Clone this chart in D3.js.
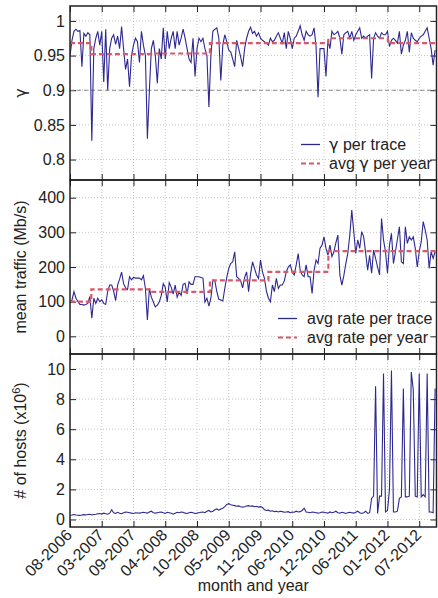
<!DOCTYPE html>
<html>
<head>
<meta charset="utf-8">
<script src="https://cdn.jsdelivr.net/npm/d3@7"></script>
<style>
  body { margin: 0; background: #fff; }
  svg { font-family: "Liberation Sans", Arial, Helvetica, sans-serif; }
  .grid line { stroke: #c8c8c8; stroke-dasharray: 1,2; }
  .frame { fill: none; stroke: #222; stroke-width: 1.5; }
  .greek { font-family: "DejaVu Sans", sans-serif; }
</style>
</head>
<body>
<svg width="438" height="598"></svg>
<script>
// x axis labels (one every 16 traces)
var monthLabels = ["08-2006","03-2007","09-2007","04-2008","10-2008","05-2009",
                   "11-2009","06-2010","12-2010","06-2011","01-2012","07-2012"];

// first trace index of each year and yearly averages
var yearStart = [0, 10.75, 40.9, 70.5, 100, 130.2, 160.2];
var gammaYear = [0.968, 0.952, 0.953, 0.968, 0.968, 0.975, 0.968];
var rateYear  = [100, 135.5, 128.5, 161.5, 186, 246, 246];

// gamma per trace
var gamma = [
  0.950,0.972,0.985,0.988,0.985,0.986,0.934,0.982,0.978,0.983,
  0.980,0.827,0.960,0.975,0.985,0.965,0.985,0.912,0.988,0.900,
  0.960,0.975,0.980,0.966,0.978,0.960,0.992,0.960,0.930,0.945,
  0.905,0.950,0.965,0.975,0.970,0.940,0.985,0.965,0.950,0.830,
  0.900,0.960,0.972,0.950,0.910,0.960,0.945,0.990,0.945,0.985,
  0.960,0.975,0.985,0.960,0.985,0.965,0.975,0.988,0.975,0.960,
  0.945,0.940,0.975,0.920,0.960,0.975,0.970,0.975,0.960,0.950,
  0.876,0.950,0.985,0.988,0.990,0.975,0.914,0.965,0.980,0.970,
  0.958,0.955,0.945,0.934,0.972,0.960,0.948,0.934,0.960,0.975,
  0.985,0.991,0.982,0.985,0.978,0.983,0.975,0.972,0.970,0.968,
  0.965,0.975,0.970,0.972,0.978,0.983,0.975,0.968,0.983,0.960,
  0.985,0.975,0.960,0.975,0.978,0.985,0.993,0.980,0.972,0.985,
  0.980,0.978,0.980,0.990,0.963,0.890,0.960,0.960,0.960,0.920,
  0.972,0.960,0.985,0.980,0.982,0.985,0.975,0.952,0.980,0.983,
  0.985,0.975,0.985,0.972,0.980,0.985,0.990,0.975,0.978,0.975,
  0.978,0.980,0.917,0.975,0.983,0.978,0.975,0.983,0.980,0.980,
  0.985,0.963,0.972,0.975,0.972,0.968,0.985,0.952,0.965,0.972,
  0.985,0.955,0.983,0.975,0.972,0.970,0.975,0.978,0.980,0.985,
  0.990,0.975,0.960,0.936,0.958
];

// mean traffic per trace (Mb/s)
var rate = [
  95,105,129,110,100,92,92,90,92,95,
  115,52,110,95,110,100,105,95,92,130,
  148,148,130,103,148,165,185,152,140,135,
  172,163,170,168,168,168,163,175,138,47,
  138,113,99,85,90,99,118,152,142,99,
  155,142,122,148,113,128,118,150,153,122,
  157,150,150,172,172,172,170,168,99,110,
  87,110,162,160,129,107,105,102,138,170,
  196,210,215,244,172,167,160,140,170,186,
  129,180,215,196,177,167,220,186,167,130,
  110,100,148,129,167,138,148,148,160,186,
  200,206,185,177,206,239,190,177,172,206,
  172,172,124,190,220,210,254,263,287,254,
  234,263,230,244,270,292,177,148,175,210,
  239,292,364,302,239,278,254,302,287,240,
  191,234,182,249,225,200,177,340,278,244,
  182,263,297,210,244,280,316,215,210,316,
  268,287,278,287,254,200,244,273,331,307,
  278,196,244,225,244
];

// number of hosts per trace (x10^6)
var hosts = [
  0.28,0.30,0.33,0.30,0.28,0.27,0.30,0.32,0.30,0.33,
  0.35,0.30,0.33,0.35,0.38,0.40,0.36,0.42,0.38,0.35,
  0.42,0.65,0.45,0.40,0.48,0.42,0.38,0.45,0.50,0.48,
  0.45,0.42,0.40,0.45,0.43,0.42,0.45,0.48,0.45,0.42,
  0.50,0.55,0.45,0.42,0.45,0.48,0.50,0.45,0.40,0.48,
  0.45,0.42,0.35,0.42,0.48,0.45,0.50,0.48,0.42,0.40,
  0.45,0.48,0.45,0.40,0.42,0.45,0.48,0.50,0.45,0.55,
  0.60,0.50,0.55,0.65,0.70,0.62,0.70,0.75,0.85,1.00,
  1.05,0.98,0.95,0.92,0.88,0.90,0.85,0.82,0.85,0.90,
  0.92,0.88,0.90,0.85,0.88,0.82,0.85,0.80,0.65,0.60,
  0.62,0.55,0.58,0.52,0.55,0.50,0.55,0.52,0.48,0.50,
  0.52,0.45,0.50,0.48,0.55,0.50,0.52,0.60,0.75,0.50,
  0.48,0.45,0.50,0.48,0.45,0.42,0.45,0.50,0.48,0.45,
  0.42,0.50,0.45,0.48,0.55,0.45,0.42,0.48,0.45,0.40,
  0.45,0.48,0.45,0.42,0.48,0.55,0.45,0.40,0.45,0.55,
  0.40,0.45,1.40,1.55,8.85,0.40,1.55,1.55,9.70,0.50,
  0.60,2.00,9.90,0.50,0.50,0.55,1.40,1.50,8.70,1.50,
  1.50,1.55,9.80,8.60,1.55,1.50,9.70,1.50,1.65,1.50,
  9.70,0.50,0.50,0.45,8.70
];

var gammaTicks = [0.8, 0.85, 0.9, 0.95, 1];
var rateTicks  = [0, 100, 200, 300, 400];
var hostTicks  = [0, 2, 4, 6, 8, 10];

var blue = "#2e2891",
    red  = "#d65a6a";

var svg = d3.select("svg"),
    left = 70, right = 436.5;

var x = d3.scaleLinear()
          .domain([0, 184.7])
          .range([left, right]);
var xTicks = monthLabels.map(function(d,i){ return i*16; });

var panels = [
  {top: 6,   bottom: 180, domain: [0.7705, 1.0215], ticks: gammaTicks, fmt: d3.format("")},
  {top: 180, bottom: 354, domain: [-51, 451],       ticks: rateTicks,  fmt: d3.format("d")},
  {top: 354, bottom: 527, domain: [-0.5, 11],       ticks: hostTicks,  fmt: d3.format("d")}
];

panels.forEach(function(p, k){
  p.y = d3.scaleLinear().domain(p.domain).range([p.bottom, p.top]);
  var g = svg.append("g");
  p.g = g;

  // grid
  var grid = g.append("g").attr("class","grid");
  grid.selectAll(".gx").data(xTicks.slice(1))
      .enter().append("line")
        .attr("x1", d => x(d)).attr("x2", d => x(d))
        .attr("y1", p.top).attr("y2", p.bottom);
  grid.selectAll(".gy").data(p.ticks)
      .enter().append("line")
        .attr("x1", left).attr("x2", right)
        .attr("y1", d => p.y(d)).attr("y2", d => p.y(d));

  // clip
  svg.append("clipPath").attr("id","clip"+k)
     .append("rect").attr("x", left).attr("y", p.top)
     .attr("width", right-left).attr("height", p.bottom-p.top);

  // y axes, left and mirrored right
  g.append("g")
   .attr("transform","translate("+left+",0)")
   .call(d3.axisRight(p.y).tickValues(p.ticks).tickSize(6).tickFormat(""))
   .call(a => a.select(".domain").remove())
   .selectAll("line").attr("stroke","#222");
  g.append("g")
   .attr("transform","translate("+right+",0)")
   .call(d3.axisLeft(p.y).tickValues(p.ticks).tickSize(6).tickFormat(""))
   .call(a => a.select(".domain").remove())
   .selectAll("line").attr("stroke","#222");
  g.append("g")
   .selectAll("text").data(p.ticks)
   .enter().append("text")
     .attr("x", left-5)
     .attr("y", d => p.y(d))
     .attr("dy","0.36em")
     .attr("text-anchor","end")
     .attr("font-size", 16)
     .attr("fill","#222")
     .text(p.fmt);

  // x ticks top and bottom
  g.append("g")
   .attr("transform","translate(0,"+p.bottom+")")
   .call(d3.axisTop(x).tickValues(xTicks).tickSize(6).tickFormat(""))
   .call(a => a.select(".domain").remove())
   .selectAll("line").attr("stroke","#222");
  g.append("g")
   .attr("transform","translate(0,"+p.top+")")
   .call(d3.axisBottom(x).tickValues(xTicks).tickSize(6).tickFormat(""))
   .call(a => a.select(".domain").remove())
   .selectAll("line").attr("stroke","#222");
});

// gamma panel
var pg = panels[0];
pg.g.append("line")
    .attr("x1", left).attr("x2", right)
    .attr("y1", pg.y(0.9)).attr("y2", pg.y(0.9))
    .attr("stroke","#8a8a8a").attr("stroke-width",1.2)
    .attr("stroke-dasharray","4,3");

function lineOf(p){
  return d3.line().x((d,i) => x(i)).y(d => p.y(d));
}
function stepOf(p, vals){
  var pts = yearStart.map((s,i) => [s, vals[i]]);
  pts.push([x.domain()[1], vals[vals.length-1]]);
  return d3.line().x(d => x(d[0])).y(d => p.y(d[1])).curve(d3.curveStepAfter)(pts);
}

pg.g.append("path")
    .attr("clip-path","url(#clip0)")
    .attr("d", lineOf(pg)(gamma))
    .attr("fill","none").attr("stroke",blue).attr("stroke-width",1.1);
pg.g.append("path")
    .attr("clip-path","url(#clip0)")
    .attr("d", stepOf(pg, gammaYear))
    .attr("fill","none").attr("stroke",red).attr("stroke-width",2.2)
    .attr("stroke-dasharray","5,3");

// traffic panel
var pr = panels[1];
pr.g.append("path")
    .attr("clip-path","url(#clip1)")
    .attr("d", lineOf(pr)(rate))
    .attr("fill","none").attr("stroke",blue).attr("stroke-width",1.1);
pr.g.append("path")
    .attr("clip-path","url(#clip1)")
    .attr("d", stepOf(pr, rateYear))
    .attr("fill","none").attr("stroke",red).attr("stroke-width",2.2)
    .attr("stroke-dasharray","5,3");

// hosts panel
var ph = panels[2];
ph.g.append("path")
    .attr("clip-path","url(#clip2)")
    .attr("d", lineOf(ph)(hosts))
    .attr("fill","none").attr("stroke",blue).attr("stroke-width",1.1);

// frames
panels.forEach(function(p){
  svg.append("rect").attr("class","frame")
     .attr("x", left).attr("y", p.top)
     .attr("width", right-left).attr("height", p.bottom-p.top);
});

// text with greek gamma in a font that draws it as a real gamma
function richText(sel, str){
  str.split(/(γ)/).forEach(function(part){
    if (!part) return;
    var t = sel.append("tspan").text(part);
    if (part === "γ") t.attr("class","greek");
  });
  return sel;
}

// legends
function legend(items, x0, x1, tx, y0){
  items.forEach(function(it, i){
    var yy = y0 + i*19;
    svg.append("line")
       .attr("x1", x0).attr("x2", x1).attr("y1", yy).attr("y2", yy)
       .attr("stroke", it.color).attr("stroke-width", it.dash ? 2.2 : 1.3)
       .attr("stroke-dasharray", it.dash ? "5,3" : null);
    richText(svg.append("text")
       .attr("x", tx).attr("y", yy).attr("dy","0.36em")
       .attr("font-size", 16).attr("fill","#222"), it.label);
  });
}
legend([{label:"γ per trace", color: blue},
        {label:"avg γ per year", color: red, dash: true}], 301, 320, 329, 144.5);
legend([{label:"avg rate per trace", color: blue},
        {label:"avg rate per year", color: red, dash: true}], 278, 297, 307, 318.5);

// x tick labels
svg.append("g").selectAll("text").data(monthLabels)
   .enter().append("text")
     .attr("transform", (d,i) => "translate("+(x(i*16)+3)+",536) rotate(-45)")
     .attr("text-anchor","end")
     .attr("font-size", 16).attr("fill","#222")
     .text(d => d);

// axis titles
svg.append("text")
   .attr("x", (left+right)/2).attr("y", 591)
   .attr("text-anchor","middle").attr("font-size", 16).attr("fill","#222")
   .text("month and year");

function yTitle(yc){
  return svg.append("text")
     .attr("transform","translate(26,"+yc+") rotate(-90)")
     .attr("text-anchor","middle").attr("font-size", 16).attr("fill","#222");
}
richText(yTitle(93), "γ");
yTitle(267).text("mean traffic (Mb/s)");
var ht = yTitle(440.5);
ht.append("tspan").text("# of hosts (x10");
ht.append("tspan").attr("dy",-6).attr("font-size",11).text("6");
ht.append("tspan").attr("dy",6).text(")");
</script>
</body>
</html>
